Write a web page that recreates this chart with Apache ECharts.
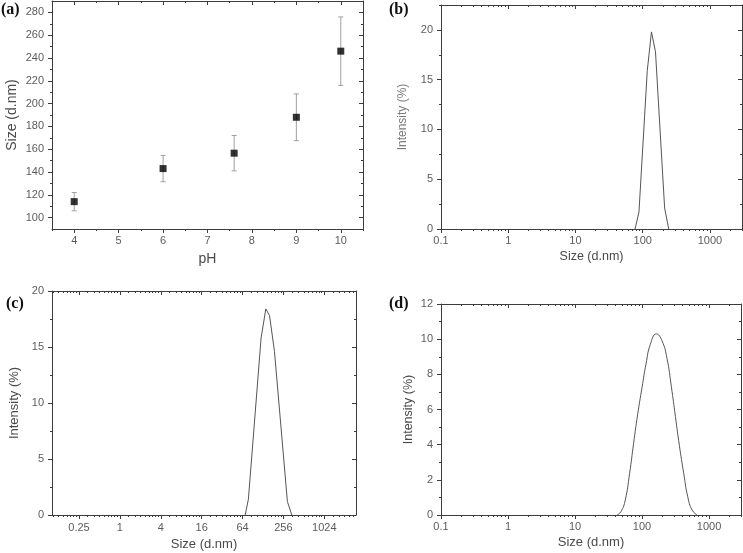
<!DOCTYPE html>
<html>
<head>
<meta charset="utf-8">
<script src="https://cdn.jsdelivr.net/npm/echarts@6/dist/echarts.min.js"></script>
<style>html,body{margin:0;padding:0;background:#fff}#c{width:743px;height:553px}</style>
</head>
<body>
<div id="c"></div>
<script>
// ---- Data ----
// (a) size vs pH
const aPH = [4, 6, 7.6, 9, 10];
const aSize = [114, 143, 156.5, 188, 246];
const aErr = [8, 11.5, 15.5, 20.5, 30];
const aXLabels = [4, 5, 6, 7, 8, 9, 10];
const aYLabels = [100, 120, 140, 160, 180, 200, 220, 240, 260, 280];
const aXMinor = [3.5, 4.5, 5.5, 6.5, 7.5, 8.5, 9.5, 10.5];
const aYMinor = [110, 130, 150, 170, 190, 210, 230, 250, 270];

// (b) intensity distribution
const bSize = [77, 88, 117, 135, 155, 212, 244];
const bInt = [0, 1.7, 15.9, 19.8, 17.8, 2.1, 0];
// (c) intensity distribution (log2 axis)
const cSize = [70, 78, 120, 141, 160, 189, 293, 340];
const cInt = [0, 1.4, 15.8, 18.4, 17.8, 14.6, 1.2, 0];
// (d) intensity distribution
const dSize = [42.3, 48.5, 56.2, 65.3, 74.9, 85.9, 100, 114.8, 133, 163.6, 199, 236, 274, 315, 361, 419, 481, 559, 664];
const dInt = [0, 0.19, 0.85, 2.37, 4.08, 5.7, 7.25, 8.6, 9.7, 10.3, 9.9, 8.9, 7.3, 5.6, 3.95, 2.37, 1.04, 0.28, 0];

const log10Labels = [0.1, 1, 10, 100, 1000];
const log4Labels = [0.25, 1, 4, 16, 64, 256, 1024];
const bYLabels = [0, 5, 10, 15, 20];
const bYMinor = [2.5, 7.5, 12.5, 17.5, 22.5];
const cYLabels = [0, 5, 10, 15, 20];
const cYMinor = [2.5, 7.5, 12.5, 17.5];
const dYLabels = [0, 2, 4, 6, 8, 10, 12];
const dYMinor = [1, 3, 5, 7, 9, 11];

// minor tick positions for log axes
const log10Minor = [];
[0.1, 1, 10, 100, 1000].forEach(d => { for (let k = 2; k <= 9; k++) { const v = +(d * k).toPrecision(4); if (v <= 3000) log10Minor.push(v); } });
const log4Minor = [];
[0.0625, 0.25, 1, 4, 16, 64, 256, 1024].forEach(d => { for (let i = 1; i <= 8; i++) { const v = d * (1 + i / 3); if (v >= 0.1 && v <= 3000) log4Minor.push(v); } });

// ---- Layout / style ----
const AX = '#3c3c3c';
const LC = '#5c5c5c';
const FF = '"Liberation Sans", Arial, sans-serif';
const fmt = v => String(+(+v).toPrecision(6));

const grids = [], xAxes = [], yAxes = [], series = [];

function addPanel(o) {
  const g = grids.length;
  const rect = { left: o.l, top: o.t, width: o.w, height: o.h, containLabel: false, outerBoundsMode: 'none' };
  grids.push(Object.assign({}, rect));
  grids.push(Object.assign({}, rect));
  const xi = xAxes.length, yi = yAxes.length;
  const xb = { type: o.xType, min: o.xMin, max: o.xMax, splitLine: { show: false }, silent: true };
  if (o.logBase) xb.logBase = o.logBase;
  const yb = { type: 'value', min: o.yMin, max: o.yMax, splitLine: { show: false }, silent: true };
  const line = { onZero: false, lineStyle: { color: AX, width: 1 } };
  const tickStyle = { color: AX, width: 1 };
  xAxes.push(Object.assign({}, xb, {
    gridIndex: g, position: 'bottom', axisLine: line,
    axisTick: { show: true, inside: false, length: 4, customValues: o.xLabels, lineStyle: tickStyle },
    axisLabel: { show: true, customValues: o.xLabels, margin: o.xMargin, fontSize: o.xFont, color: LC, fontFamily: FF, formatter: fmt },
    name: o.xName, nameLocation: 'middle', nameGap: o.xGap,
    nameTextStyle: { fontSize: o.xNameFont, color: o.xNameColor, fontFamily: FF }
  }));
  xAxes.push(Object.assign({}, xb, {
    gridIndex: g, position: 'top', axisLine: line,
    axisTick: { show: true, inside: true, length: 4, customValues: o.xLabels, lineStyle: tickStyle },
    axisLabel: { show: false }
  }));
  xAxes.push(Object.assign({}, xb, {
    gridIndex: g + 1, position: 'bottom', axisLine: { show: false, onZero: false },
    axisTick: { show: true, inside: false, length: 2, customValues: o.xMinor, lineStyle: tickStyle },
    axisLabel: { show: false }
  }));
  xAxes.push(Object.assign({}, xb, {
    gridIndex: g + 1, position: 'top', axisLine: { show: false, onZero: false },
    axisTick: { show: true, inside: true, length: 2, customValues: o.xMinor, lineStyle: tickStyle },
    axisLabel: { show: false }
  }));
  yAxes.push(Object.assign({}, yb, {
    gridIndex: g, position: 'left', axisLine: line,
    axisTick: { show: true, inside: false, length: 4, customValues: o.yLabels, lineStyle: tickStyle },
    axisLabel: { show: true, customValues: o.yLabels, margin: o.yMargin, fontSize: o.yFont, color: LC, fontFamily: FF, formatter: fmt },
    name: o.yName, nameLocation: 'middle', nameGap: o.yGap,
    nameTextStyle: { fontSize: o.yNameFont, color: o.yNameColor, fontFamily: FF }
  }));
  yAxes.push(Object.assign({}, yb, {
    gridIndex: g, position: 'right', axisLine: line,
    axisTick: { show: true, inside: true, length: 4, customValues: o.yLabels, lineStyle: tickStyle },
    axisLabel: { show: false }
  }));
  yAxes.push(Object.assign({}, yb, {
    gridIndex: g + 1, position: 'left', axisLine: { show: false, onZero: false },
    axisTick: { show: true, inside: false, length: 2, customValues: o.yMinor, lineStyle: tickStyle },
    axisLabel: { show: false }
  }));
  yAxes.push(Object.assign({}, yb, {
    gridIndex: g + 1, position: 'right', axisLine: { show: false, onZero: false },
    axisTick: { show: true, inside: true, length: 2, customValues: o.yMinor, lineStyle: tickStyle },
    axisLabel: { show: false }
  }));
  return { xi, yi };
}

// (a)
const pa = addPanel({ l: 52, t: 1, w: 311, h: 228, xType: 'value', xMin: 3.5, xMax: 10.5, yMin: 90, yMax: 290,
  xLabels: aXLabels, xMinor: aXMinor, yLabels: aYLabels, yMinor: aYMinor,
  xMargin: 6, yMargin: 8, xFont: 11, yFont: 11,
  xName: 'pH', xGap: 23, xNameFont: 14, xNameColor: '#4a4a4a',
  yName: 'Size (d.nm)', yGap: 33, yNameFont: 14, yNameColor: '#4a4a4a' });
series.push({
  type: 'custom', xAxisIndex: pa.xi, yAxisIndex: pa.yi, z: 2,
  data: aPH.map((x, i) => [x, aSize[i] - aErr[i], aSize[i] + aErr[i]]),
  encode: { x: 0, y: [1, 2] },
  renderItem: function (params, api) {
    const x = api.value(0);
    const lo = api.coord([x, api.value(1)]);
    const hi = api.coord([x, api.value(2)]);
    const st = { stroke: '#a0a0a0', lineWidth: 1 };
    const c = 2.5;
    return { type: 'group', children: [
      { type: 'line', shape: { x1: lo[0], y1: lo[1], x2: hi[0], y2: hi[1] }, style: st },
      { type: 'line', shape: { x1: lo[0] - c, y1: lo[1], x2: lo[0] + c, y2: lo[1] }, style: st },
      { type: 'line', shape: { x1: hi[0] - c, y1: hi[1], x2: hi[0] + c, y2: hi[1] }, style: st }
    ] };
  }
});
series.push({
  type: 'scatter', xAxisIndex: pa.xi, yAxisIndex: pa.yi, z: 3,
  symbol: 'rect', symbolSize: 7, itemStyle: { color: '#000' },
  data: aPH.map((x, i) => [x, aSize[i]])
});

// (b)
const pb = addPanel({ l: 441, t: 5, w: 301, h: 224, xType: 'log', xMin: 0.1, xMax: 3000, yMin: 0, yMax: 22.5,
  xLabels: log10Labels, xMinor: log10Minor, yLabels: bYLabels, yMinor: bYMinor,
  xMargin: 6, yMargin: 8, xFont: 11, yFont: 11,
  xName: 'Size (d.nm)', xGap: 21, xNameFont: 12.5, xNameColor: '#4a4a4a',
  yName: 'Intensity (%)', yGap: 32, yNameFont: 12, yNameColor: '#7a7a7a' });
series.push({ type: 'line', xAxisIndex: pb.xi, yAxisIndex: pb.yi, showSymbol: false, symbol: 'none',
  lineStyle: { color: '#555', width: 1 }, data: bSize.map((x, i) => [x, bInt[i]]) });

// (c)
const pc = addPanel({ l: 52, t: 291, w: 304, h: 224, xType: 'log', logBase: 4, xMin: 0.1, xMax: 3000, yMin: 0, yMax: 20,
  xLabels: log4Labels, xMinor: log4Minor, yLabels: cYLabels, yMinor: cYMinor,
  xMargin: 7, yMargin: 8, xFont: 11, yFont: 11,
  xName: 'Size (d.nm)', xGap: 23, xNameFont: 13, xNameColor: '#4a4a4a',
  yName: 'Intensity (%)', yGap: 31, yNameFont: 13, yNameColor: '#4a4a4a' });
series.push({ type: 'line', xAxisIndex: pc.xi, yAxisIndex: pc.yi, showSymbol: false, symbol: 'none',
  lineStyle: { color: '#555', width: 1 }, data: cSize.map((x, i) => [x, cInt[i]]) });

// (d)
const pd = addPanel({ l: 441, t: 304, w: 300, h: 211, xType: 'log', xMin: 0.1, xMax: 3000, yMin: 0, yMax: 12,
  xLabels: log10Labels, xMinor: log10Minor, yLabels: dYLabels, yMinor: dYMinor,
  xMargin: 6, yMargin: 8, xFont: 11, yFont: 11,
  xName: 'Size (d.nm)', xGap: 21, xNameFont: 13, xNameColor: '#4a4a4a',
  yName: 'Intensity (%)', yGap: 26, yNameFont: 12.5, yNameColor: '#4a4a4a' });
series.push({ type: 'line', xAxisIndex: pd.xi, yAxisIndex: pd.yi, showSymbol: false, symbol: 'none', smooth: 0.5,
  lineStyle: { color: '#555', width: 1 }, data: dSize.map((x, i) => [x, dInt[i]]) });

const panelLabels = [['(a)', 1, 2], ['(b)', 389, 2], ['(c)', 6, 296], ['(d)', 389, 296]];

const chart = echarts.init(document.getElementById('c'), null, { renderer: 'canvas' });
chart.setOption({
  animation: false,
  backgroundColor: '#fff',
  grid: grids,
  xAxis: xAxes,
  yAxis: yAxes,
  series: series,
  graphic: panelLabels.map(p => ({
    type: 'text', left: p[1], top: p[2],
    style: { text: p[0], font: 'bold 16px "Liberation Serif", "Times New Roman", serif', fill: '#111' }
  }))
});
</script>
</body>
</html>
